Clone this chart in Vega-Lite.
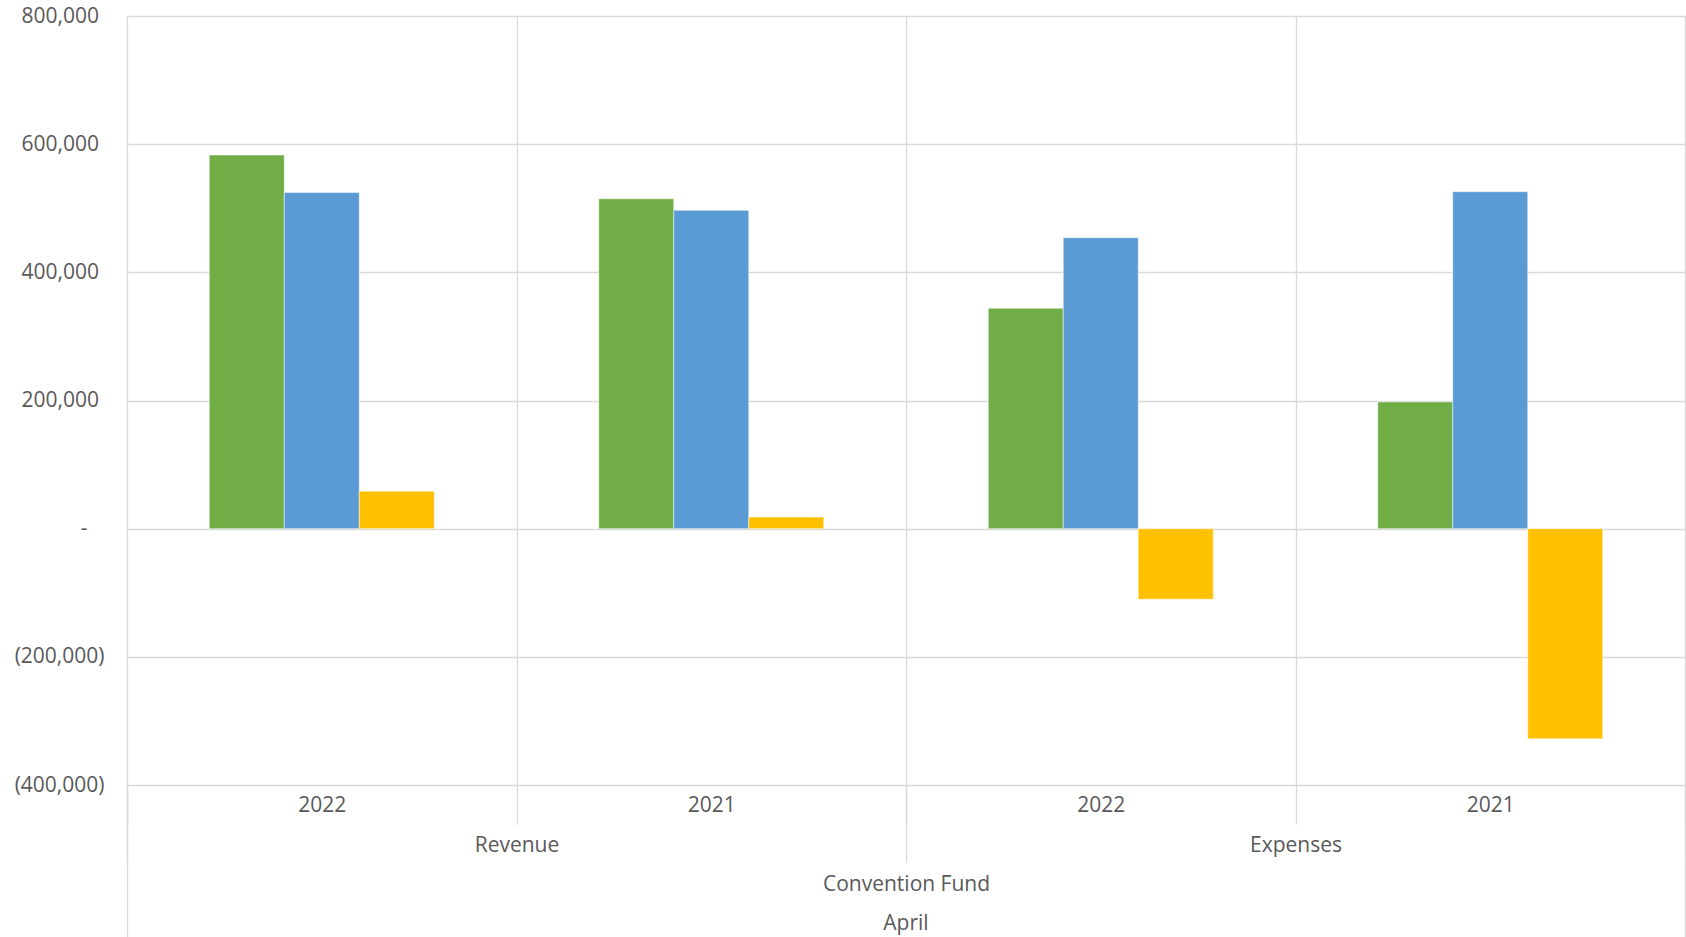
{
  "$schema": "https://vega.github.io/schema/vega-lite/v6.json",
  "width": 1558,
  "height": 769,
  "autosize": {"type": "none"},
  "padding": {"left": 127, "top": 16, "right": 1, "bottom": 152},
  "background": "white",
  "config": {
    "view": {"stroke": null},
    "font": "Open Sans",
    "axis": {
      "labelFont": "Open Sans",
      "labelFontSize": 21,
      "labelColor": "#595959",
      "tickColor": "#d9d9d9",
      "tickWidth": 1.3,
      "gridColor": "#d9d9d9",
      "gridWidth": 1.3,
      "domain": false,
      "title": null,
      "labelOverlap": false
    }
  },
  "data": {
    "values": [
      {"month": "April", "fund": "Convention Fund", "group": "Revenue", "year": "2022", "column": "Revenue 2022", "series": "Actual", "value": 583000},
      {"month": "April", "fund": "Convention Fund", "group": "Revenue", "year": "2022", "column": "Revenue 2022", "series": "Budget", "value": 524500},
      {"month": "April", "fund": "Convention Fund", "group": "Revenue", "year": "2022", "column": "Revenue 2022", "series": "Variance", "value": 58500},
      {"month": "April", "fund": "Convention Fund", "group": "Revenue", "year": "2021", "column": "Revenue 2021", "series": "Actual", "value": 514800},
      {"month": "April", "fund": "Convention Fund", "group": "Revenue", "year": "2021", "column": "Revenue 2021", "series": "Budget", "value": 496700},
      {"month": "April", "fund": "Convention Fund", "group": "Revenue", "year": "2021", "column": "Revenue 2021", "series": "Variance", "value": 18100},
      {"month": "April", "fund": "Convention Fund", "group": "Expenses", "year": "2022", "column": "Expenses 2022", "series": "Actual", "value": 343800},
      {"month": "April", "fund": "Convention Fund", "group": "Expenses", "year": "2022", "column": "Expenses 2022", "series": "Budget", "value": 454000},
      {"month": "April", "fund": "Convention Fund", "group": "Expenses", "year": "2022", "column": "Expenses 2022", "series": "Variance", "value": -110200},
      {"month": "April", "fund": "Convention Fund", "group": "Expenses", "year": "2021", "column": "Expenses 2021", "series": "Actual", "value": 197800},
      {"month": "April", "fund": "Convention Fund", "group": "Expenses", "year": "2021", "column": "Expenses 2021", "series": "Budget", "value": 525800},
      {"month": "April", "fund": "Convention Fund", "group": "Expenses", "year": "2021", "column": "Expenses 2021", "series": "Variance", "value": -328000}
    ]
  },
  "layer": [
    {
      "mark": {"type": "bar", "stroke": "#ffffff", "strokeWidth": 0.8, "strokeOpacity": 0.6},
      "encoding": {
        "x": {
          "field": "column",
          "type": "nominal",
          "sort": ["Revenue 2022", "Revenue 2021", "Expenses 2022", "Expenses 2021"],
          "scale": {"paddingInner": 0, "paddingOuter": 0},
          "axis": {
            "orient": "bottom",
            "tickBand": "extent",
            "grid": true,
            "ticks": true,
            "tickSize": 39,
            "labelPadding": -30,
            "labelAngle": 0,
            "labelExpr": "split(datum.label, ' ')[1]"
          }
        },
        "xOffset": {
          "field": "series",
          "type": "nominal",
          "scale": {"domain": ["gap1", "Actual", "Budget", "Variance", "gap2"], "paddingInner": 0, "paddingOuter": 0.097}
        },
        "y": {
          "field": "value",
          "type": "quantitative",
          "scale": {"domain": [-400000, 800000], "nice": false},
          "axis": {
            "orient": "left",
            "values": [200000, 400000, 600000, 800000],
            "grid": true,
            "ticks": false,
            "tickSize": 0,
            "labelPadding": 28.5,
            "labelExpr": "format(datum.value, ',')"
          }
        },
        "color": {
          "field": "series",
          "type": "nominal",
          "scale": {"domain": ["Actual", "Budget", "Variance"], "range": ["#70ad47", "#5b9bd5", "#ffc000"]},
          "legend": null
        }
      }
    },
    {
      "mark": {"type": "bar", "opacity": 0},
      "encoding": {
        "x": {
          "field": "group",
          "type": "nominal",
          "sort": ["Revenue", "Expenses"],
          "scale": {"paddingInner": 0, "paddingOuter": 0},
          "axis": {
            "orient": "bottom",
            "tickBand": "extent",
            "grid": false,
            "ticks": true,
            "tickSize": 77,
            "labelPadding": -28,
            "labelAngle": 0
          }
        },
        "y": {
          "field": "value",
          "type": "quantitative",
          "scale": {"domain": [-400000, 800000], "nice": false},
          "axis": {
            "orient": "left",
            "values": [-400000, -200000],
            "grid": true,
            "ticks": false,
            "tickSize": 0,
            "labelPadding": 23,
            "labelExpr": "'(' + format(-datum.value, ',') + ')'"
          }
        }
      }
    },
    {
      "mark": {"type": "bar", "opacity": 0},
      "encoding": {
        "x": {
          "field": "fund",
          "type": "nominal",
          "scale": {"paddingInner": 0, "paddingOuter": 0},
          "axis": {
            "orient": "bottom",
            "tickBand": "extent",
            "grid": false,
            "ticks": true,
            "tickSize": 152,
            "labelPadding": -64,
            "labelAngle": 0
          }
        },
        "y": {
          "field": "value",
          "type": "quantitative",
          "scale": {"domain": [-400000, 800000], "nice": false},
          "axis": {
            "orient": "left",
            "values": [0],
            "grid": true,
            "ticks": false,
            "tickSize": 0,
            "labelPadding": 40,
            "labelExpr": "'-'"
          }
        }
      }
    },
    {
      "mark": {"type": "bar", "opacity": 0},
      "encoding": {
        "x": {
          "field": "month",
          "type": "nominal",
          "scale": {"paddingInner": 0, "paddingOuter": 0},
          "axis": {
            "orient": "bottom",
            "grid": false,
            "ticks": false,
            "tickSize": 0,
            "labelPadding": 127,
            "labelAngle": 0
          }
        }
      }
    }
  ],
  "resolve": {
    "scale": {"x": "independent", "y": "independent"},
    "axis": {"x": "independent", "y": "independent"}
  }
}
